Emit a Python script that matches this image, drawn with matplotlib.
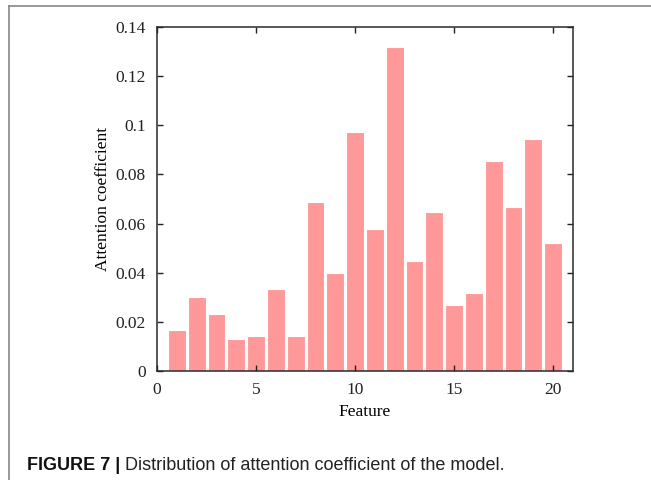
import matplotlib
matplotlib.use("Agg")
import matplotlib.pyplot as plt
from matplotlib.lines import Line2D
import numpy as np

# data
features = list(range(1, 21))
attention = [0.0165, 0.0302, 0.0230, 0.0131, 0.0142, 0.0333, 0.0144, 0.0688,
             0.0399, 0.0971, 0.0578, 0.1318, 0.0448, 0.0649, 0.0269, 0.0316,
             0.0854, 0.0667, 0.0944, 0.0521]
yticks = [0, 0.02, 0.04, 0.06, 0.08, 0.1, 0.12, 0.14]
ytick_labels = ["0", "0.02", "0.04", "0.06", "0.08", "0.1", "0.12", "0.14"]
xticks = [0, 5, 10, 15, 20]

plt.rcParams['font.family'] = ['Liberation Serif', 'DejaVu Serif']

fig = plt.figure(figsize=(6.51, 4.8), dpi=100)
ax = fig.add_axes([157/651, 1 - 371/480, (573-157)/651, (371-27)/480])

ax.bar(features, attention, width=0.9, color='#ff9999',
       edgecolor='white', linewidth=0.8)

ax.set_xlim(0, 21)
ax.set_ylim(0, 0.14)
ax.set_xticks(xticks)
ax.set_yticks(yticks)
ax.set_yticklabels(ytick_labels)
ax.tick_params(direction='in', top=True, right=True, length=4,
               width=1, labelsize=12.5, colors='#222222', pad=8)
for s in ax.spines.values():
    s.set_linewidth(1.1)
    s.set_color('#2a2a2a')

ax.set_xlabel('Feature', fontsize=12.5, labelpad=4)
ax.set_ylabel('Attention coefficient', fontsize=12.5, labelpad=3)

# frame lines of the page
fig.add_artist(Line2D([9/651, 1], [1 - 5.5/480, 1 - 5.5/480],
                      transform=fig.transFigure, color='#888888', lw=1.2))
fig.add_artist(Line2D([9/651, 9/651], [0, 1 - 5.5/480],
                      transform=fig.transFigure, color='#888888', lw=1.2))

# caption
cap_fam = ['Liberation Sans', 'DejaVu Sans']
t1 = fig.text(27/651, 1 - 470/480, 'FIGURE 7 | ', fontsize=13,
              fontweight='bold', family=cap_fam, va='baseline', color='#111111')
fig.canvas.draw()
bb = t1.get_window_extent()
fig.text(bb.x1/fig.bbox.width, 1 - 470/480,
         'Distribution of attention coefficient of the model.',
         fontsize=13, family=cap_fam, va='baseline', color='#222222')

fig.savefig('out.png', dpi=100)
